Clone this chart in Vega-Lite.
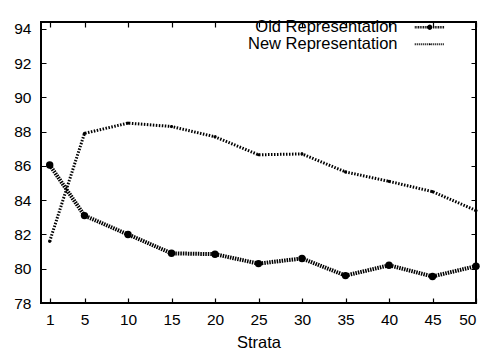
{
  "$schema": "https://vega.github.io/schema/vega-lite/v6.json",
  "width": 435,
  "height": 281,
  "autosize": {"type": "none"},
  "padding": {"left": 41, "top": 22, "right": 11, "bottom": 50},
  "background": "white",
  "config": {
    "view": {"stroke": "black", "strokeWidth": 2},
    "font": "Liberation Sans",
    "axis": {
      "domain": false,
      "ticks": false,
      "tickSize": 0,
      "grid": true,
      "gridColor": "black",
      "gridOpacity": 1,
      "gridWidth": 1.2,
      "labelFont": "Liberation Sans",
      "labelFontSize": 15.5,
      "labelColor": "black",
      "titleFont": "Liberation Sans",
      "titleFontSize": 16.5,
      "titleFontWeight": "normal",
      "titleColor": "black"
    }
  },
  "data": {
    "values": [
      {"strata": 1, "accuracy": 86.05, "series": "Old Representation"},
      {"strata": 5, "accuracy": 83.1, "series": "Old Representation"},
      {"strata": 10, "accuracy": 82.0, "series": "Old Representation"},
      {"strata": 15, "accuracy": 80.9, "series": "Old Representation"},
      {"strata": 20, "accuracy": 80.85, "series": "Old Representation"},
      {"strata": 25, "accuracy": 80.3, "series": "Old Representation"},
      {"strata": 30, "accuracy": 80.6, "series": "Old Representation"},
      {"strata": 35, "accuracy": 79.6, "series": "Old Representation"},
      {"strata": 40, "accuracy": 80.2, "series": "Old Representation"},
      {"strata": 45, "accuracy": 79.55, "series": "Old Representation"},
      {"strata": 50, "accuracy": 80.15, "series": "Old Representation"},
      {"strata": 1, "accuracy": 81.6, "series": "New Representation"},
      {"strata": 5, "accuracy": 87.9, "series": "New Representation"},
      {"strata": 10, "accuracy": 88.5, "series": "New Representation"},
      {"strata": 15, "accuracy": 88.3, "series": "New Representation"},
      {"strata": 20, "accuracy": 87.7, "series": "New Representation"},
      {"strata": 25, "accuracy": 86.65, "series": "New Representation"},
      {"strata": 30, "accuracy": 86.7, "series": "New Representation"},
      {"strata": 35, "accuracy": 85.65, "series": "New Representation"},
      {"strata": 40, "accuracy": 85.1, "series": "New Representation"},
      {"strata": 45, "accuracy": 84.5, "series": "New Representation"},
      {"strata": 50, "accuracy": 83.4, "series": "New Representation"}
    ]
  },
  "encoding": {
    "x": {
      "field": "strata", "type": "quantitative",
      "scale": {"domain": [0, 50], "nice": false, "zero": false},
      "axis": {"values": [1, 5, 10, 15, 20, 25, 30, 35, 40, 45, 50], "title": "Strata", "labelPadding": 9, "titlePadding": 7, "gridDash": [5, 271, 5]}
    },
    "y": {
      "field": "accuracy", "type": "quantitative",
      "scale": {"domain": [78, 94.4], "nice": false, "zero": false},
      "axis": {"values": [78, 80, 82, 84, 86, 88, 90, 92, 94], "title": null, "labelPadding": 10, "gridDash": [5, 425, 5]}
    }
  },
  "layer": [
    {
      "transform": [{"filter": "datum.series === 'Old Representation'"}],
      "mark": {"type": "line", "strokeCap": "butt", "color": "black", "strokeWidth": 4, "strokeDash": [1.5, 1]}
    },
    {
      "transform": [{"filter": "datum.series === 'New Representation'"}],
      "mark": {"type": "line", "strokeCap": "butt", "color": "black", "strokeWidth": 3, "strokeDash": [1.5, 1.5]}
    },
    {
      "transform": [{"filter": "datum.series === 'Old Representation'"}],
      "mark": {"type": "point", "shape": "circle", "filled": true, "color": "black", "size": 55, "opacity": 1}
    },
    {
      "transform": [{"filter": "datum.series === 'New Representation'"}],
      "mark": {"type": "point", "shape": "circle", "filled": true, "color": "black", "size": 10, "opacity": 1}
    },
    {
      "transform": [{"filter": "datum.strata < 0"}],
      "mark": {"type": "point", "filled": true, "color": "black", "size": 225, "opacity": 1},
      "encoding": {
        "shape": {
          "field": "series", "type": "nominal",
          "scale": {
            "domain": ["Old Representation", "New Representation"],
            "range": [
              "M-3,-0.267h0.2v0.533h-0.2ZM-2.667,-0.267h0.2v0.533h-0.2ZM-2.333,-0.267h0.2v0.533h-0.2ZM-2,-0.267h0.2v0.533h-0.2ZM-1.667,-0.267h0.2v0.533h-0.2ZM-1.333,-0.267h0.2v0.533h-0.2ZM-1,-0.267h0.2v0.533h-0.2ZM-0.667,-0.267h0.2v0.533h-0.2ZM0.667,-0.267h0.2v0.533h-0.2ZM1,-0.267h0.2v0.533h-0.2ZM1.333,-0.267h0.2v0.533h-0.2ZM1.667,-0.267h0.2v0.533h-0.2ZM2,-0.267h0.2v0.533h-0.2ZM2.333,-0.267h0.2v0.533h-0.2ZM2.667,-0.267h0.2v0.533h-0.2ZM0.533,0L0.462,0.267L0.267,0.462L0,0.533L-0.267,0.462L-0.462,0.267L-0.533,0L-0.462,-0.267L-0.267,-0.462L0,-0.533L0.267,-0.462L0.462,-0.267Z",
              "M-3,-0.2h0.2v0.4h-0.2ZM-2.6,-0.2h0.2v0.4h-0.2ZM-2.2,-0.2h0.2v0.4h-0.2ZM-1.8,-0.2h0.2v0.4h-0.2ZM-1.4,-0.2h0.2v0.4h-0.2ZM-1,-0.2h0.2v0.4h-0.2ZM-0.6,-0.2h0.2v0.4h-0.2ZM-0.2,-0.2h0.2v0.4h-0.2ZM0.2,-0.2h0.2v0.4h-0.2ZM0.6,-0.2h0.2v0.4h-0.2ZM1,-0.2h0.2v0.4h-0.2ZM1.4,-0.2h0.2v0.4h-0.2ZM1.8,-0.2h0.2v0.4h-0.2ZM2.2,-0.2h0.2v0.4h-0.2ZM2.6,-0.2h0.2v0.4h-0.2ZM0.2,0L0,0.2L-0.2,0L0,-0.2Z"
            ]
          },
          "legend": {
            "title": null,
            "orient": "none",
            "legendX": 380.5,
            "legendY": -3,
            "padding": 0,
            "labelAlign": "right",
            "labelOffset": -40.5,
            "labelFontSize": 16.5,
            "labelColor": "black",
            "labelFont": "Liberation Sans",
            "rowPadding": 0,
            "labelLimit": 300
          }
        }
      }
    }
  ]
}
